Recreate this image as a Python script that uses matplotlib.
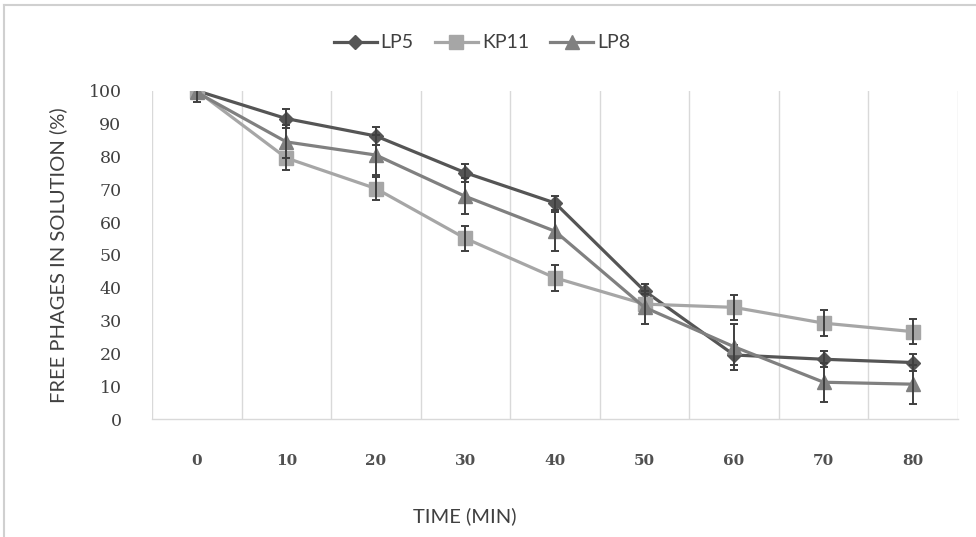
import matplotlib
matplotlib.use("Agg")
import matplotlib.pyplot as plt
from matplotlib.lines import Line2D
import numpy as np

plt.rcParams["font.family"] = ["DejaVu Serif"]

times = ["0", "10", "20", "30", "40", "50", "60", "70", "80"]
lp5 = [100, 91.5, 86.2, 75.0, 65.8, 39.0, 19.5, 18.2, 17.2]
lp5_err = [2.5, 2.8, 2.8, 2.7, 2.2, 2.0, 3.0, 2.5, 2.5]
kp11 = [100, 79.5, 70.2, 55.0, 43.0, 35.0, 34.0, 29.2, 26.6]
kp11_err = [2.5, 3.7, 3.5, 3.9, 4.0, 3.0, 3.9, 4.0, 3.9]
lp8 = [99.5, 84.4, 80.4, 67.8, 57.2, 34.0, 22.0, 11.2, 10.6]
lp8_err = [3.0, 5.0, 6.0, 5.5, 6.0, 5.0, 7.0, 6.0, 6.0]

fig = plt.figure(figsize=(9.76, 5.37), dpi=100)
ax = fig.add_axes([152/976, 1-419/537, 806/976, (419-90.7)/537])

x = np.arange(len(times))
series = [
    ("LP5", lp5, lp5_err, "#555555", "D", 7),
    ("KP11", kp11, kp11_err, "#A6A6A6", "s", 9.5),
    ("LP8", lp8, lp8_err, "#808080", "^", 10),
]
for i, (name, vals, err, col, mk, ms) in enumerate(series):
    ax.plot(x, vals, color=col, lw=2.3, marker=mk, ms=ms, mec=col, mfc=col,
            label=name, zorder=3 + i)
    ax.errorbar(x, vals, yerr=err, fmt="none", ecolor="#3f3f3f", elinewidth=1.4,
                capsize=3, capthick=1.4, zorder=3 + i)

ax.set_xlim(-0.5, len(times) - 0.5)
ax.set_ylim(0, 100)
ax.set_yticks(np.arange(0, 101, 10))
ax.set_xticks(x)
ax.set_xticklabels(times, fontsize=11, fontweight="bold", color="#505050")
ax.tick_params(axis="y", length=0, pad=22, labelsize=12.5, labelcolor="#404040")
ax.tick_params(axis="x", length=0, pad=25)
for b in np.arange(-0.5, len(times), 1.0):
    ax.axvline(b, color="#d9d9d9", lw=1.0, zorder=1)
for s in ["top", "right", "left"]:
    ax.spines[s].set_visible(False)
ax.spines["bottom"].set_color("#d9d9d9")
ax.spines["bottom"].set_linewidth(1.0)

fig.text(465/976, 1-516/537, "TIME (MIN)", ha="center", va="center",
         fontsize=14.5, family="Lato", color="#404040")
fig.text(58/976, 1-255/537, "FREE PHAGES IN SOLUTION (%)", ha="center", va="center",
         rotation=90, fontsize=14.5, family="Lato", color="#404040")

leg = fig.legend(loc="center", bbox_to_anchor=(482/976, 1-43/537), ncol=3, frameon=False,
                 prop={"family": "Lato", "size": 14}, handlelength=2.2, columnspacing=1.1,
                 handletextpad=0.2)
for t in leg.get_texts():
    t.set_color("#404040")

fig.add_artist(Line2D([4/976, 1], [1-5/537, 1-5/537], color="#d0d0d0", lw=1.5))
fig.add_artist(Line2D([4/976, 4/976], [0, 1-5/537], color="#d0d0d0", lw=1.5))

fig.savefig("out.png", dpi=100)
